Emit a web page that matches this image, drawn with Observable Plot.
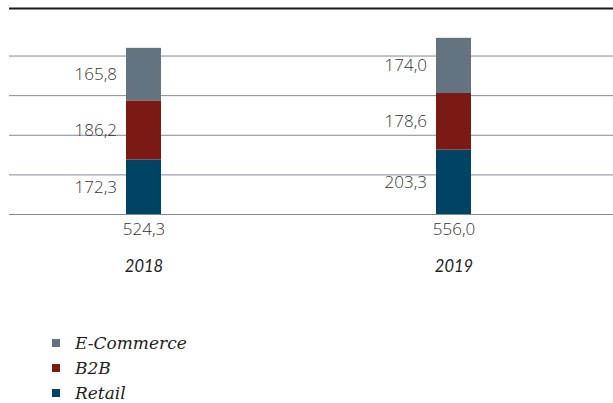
<!DOCTYPE html>
<html>
<head>
<meta charset="utf-8">
<script src="https://cdn.jsdelivr.net/npm/d3@7"></script>
<script src="https://cdn.jsdelivr.net/npm/@observablehq/plot@0.6"></script>
<style>
  html, body { margin: 0; padding: 0; background: #fff; }
  #wrap { position: relative; width: 613px; height: 403px; overflow: hidden; }
  #legend { position: absolute; left: 52px; top: 334px; font-family: "DejaVu Serif", serif; font-style: italic; font-size: 17px; color: #222; }
  .row { display: flex; align-items: center; height: 18px; line-height: 18px; margin-bottom: 7px; }
  .row:last-child { margin-bottom: 0; }
  .sw { width: 8px; height: 8px; margin-right: 15px; flex: none; }
</style>
</head>
<body>
<div id="wrap"><div id="chart"></div><div id="legend"></div></div>
<script>
const years = ["2018", "2019"];
const retail = [172.3, 203.3];
const b2b = [186.2, 178.6];
const ecommerce = [165.8, 174.0];
const totals = [524.3, 556.0];
const segments = ["Retail", "B2B", "E-Commerce"];
const legendOrder = ["E-Commerce", "B2B", "Retail"];
const colors = ["#63737f", "#7b1a14", "#004363"];
const gridTicks = [0, 125, 250, 375, 500];
const yMax = 650;

const series = {"Retail": retail, "B2B": b2b, "E-Commerce": ecommerce};
const rows = [];
segments.forEach(s => years.forEach((y, i) => rows.push({year: y, segment: s, value: series[s][i]})));
const totalRows = years.map((y, i) => ({year: y, total: totals[i]}));
const fmt = v => d3.format(".1f")(v).replace(".", ",");

const chart = Plot.plot({
  width: 613,
  height: 290,
  marginTop: 8,
  marginBottom: 76,
  marginLeft: 9,
  marginRight: 0,
  style: {fontFamily: "'Open Sans', sans-serif", background: "#fff"},
  x: {domain: years, paddingInner: 0.887, paddingOuter: 0.4175, align: 0.452, label: null},
  y: {domain: [0, yMax], axis: null},
  color: {domain: legendOrder, range: colors},
  marks: [
    Plot.ruleY(gridTicks, {stroke: "#7f8b95", strokeWidth: 1}),
    Plot.ruleY([yMax], {stroke: "#1a1a1a", strokeWidth: 2}),
    Plot.barY(rows, Plot.stackY({x: "year", y: "value", z: "segment", fill: "segment", order: segments})),
    Plot.text(rows, Plot.stackY({x: "year", y: "value", z: "segment", order: segments, text: d => fmt(d.value), textAnchor: "end", dx: -27, fontSize: 17, fontWeight: 300, fill: "#333"})),
    Plot.text(totalRows, {x: "year", y: () => 0, text: d => fmt(d.total), lineAnchor: "top", dy: 8, fontSize: 17, fontWeight: 300, fill: "#333"}),
    Plot.axisX({tickSize: 0, tickPadding: 46, fontSize: 16.5, fontStyle: "italic", fontWeight: 400, fontFamily: "Lato, sans-serif", fill: "#222", label: null})
  ]
});
document.getElementById("chart").appendChild(chart);

const legend = document.getElementById("legend");
legendOrder.forEach((s, i) => {
  const row = document.createElement("div");
  row.className = "row";
  const sw = document.createElement("span");
  sw.className = "sw";
  sw.style.background = colors[i];
  const t = document.createElement("span");
  t.textContent = s;
  row.appendChild(sw);
  row.appendChild(t);
  legend.appendChild(row);
});
</script>
</body>
</html>
